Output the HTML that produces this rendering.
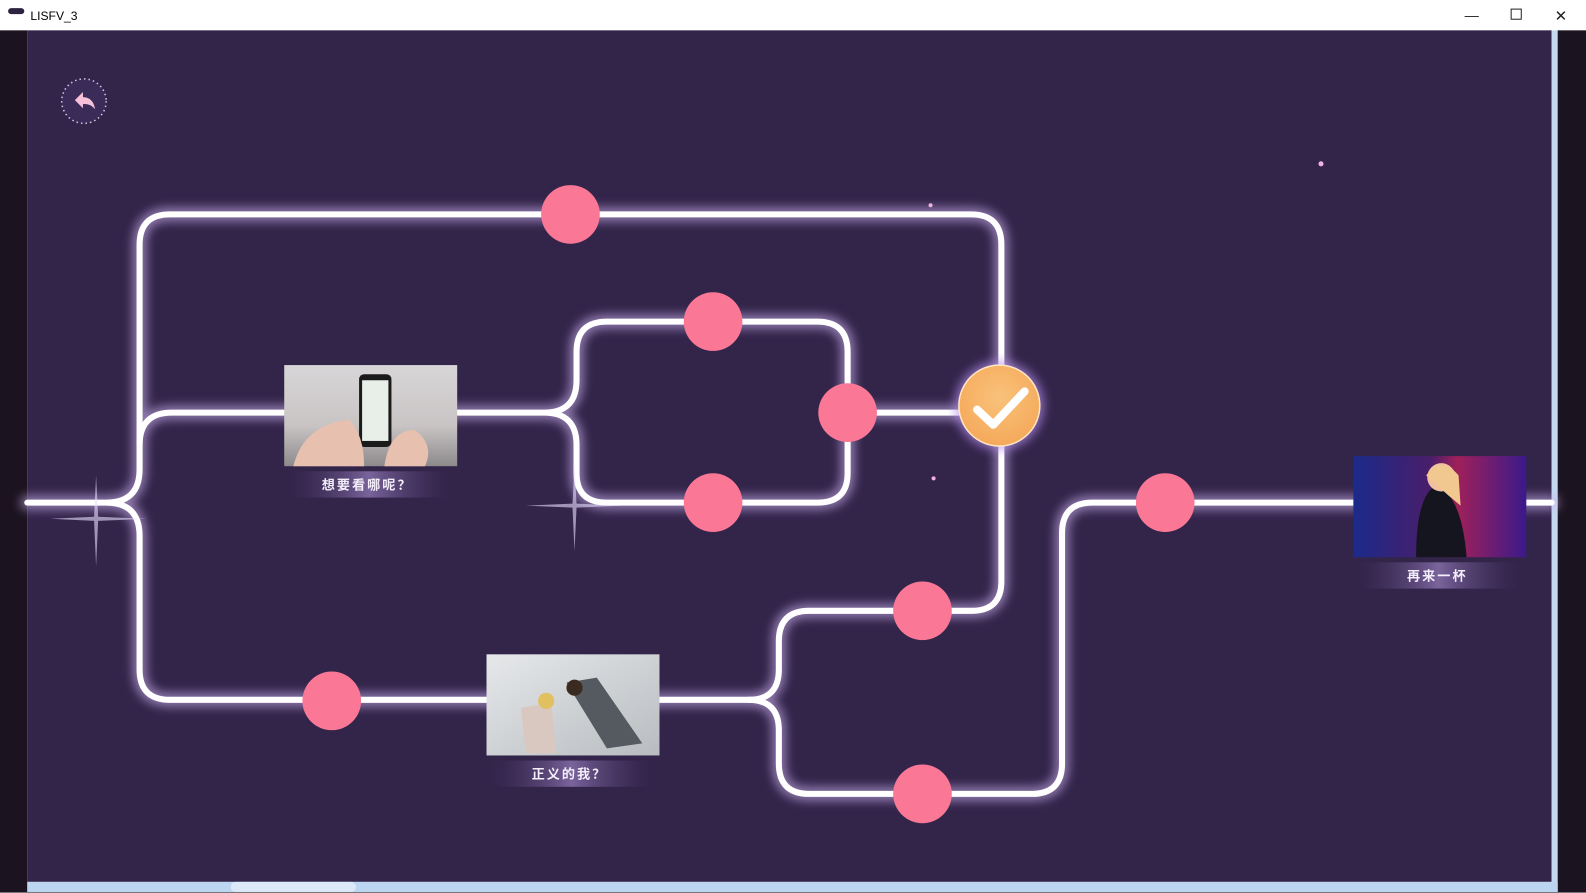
<!DOCTYPE html>
<html><head><meta charset="utf-8"><style>
html,body{margin:0;padding:0;width:1586px;height:893px;overflow:hidden;background:#fff}
svg{display:block}
</style></head><body>
<svg width="1586" height="893" viewBox="0 0 1568 883" preserveAspectRatio="none" xmlns="http://www.w3.org/2000/svg" font-family="Liberation Sans, Noto Sans CJK SC, sans-serif">
<defs>
<filter id="glow" x="-20%" y="-20%" width="140%" height="140%"><feGaussianBlur stdDeviation="5"/></filter>
<radialGradient id="chk" cx="50%" cy="40%" r="60%"><stop offset="0" stop-color="#f9c27a"/><stop offset="1" stop-color="#f5a95a"/></radialGradient>
<linearGradient id="lab" x1="0" x2="1"><stop offset="0" stop-color="#4a3868" stop-opacity="0"/><stop offset="0.5" stop-color="#7a649c"/><stop offset="1" stop-color="#4a3868" stop-opacity="0"/></linearGradient>
<linearGradient id="img1" x1="0" y1="0" x2="0" y2="1"><stop offset="0" stop-color="#d8d6d8"/><stop offset="0.6" stop-color="#c9c4c4"/><stop offset="1" stop-color="#8d8a8c"/></linearGradient>
<linearGradient id="img2" x1="0" y1="0" x2="1" y2="1"><stop offset="0" stop-color="#e6e8ea"/><stop offset="1" stop-color="#b8bcc0"/></linearGradient>
<linearGradient id="img3" x1="0" y1="0" x2="1" y2="0"><stop offset="0" stop-color="#1b2a8a"/><stop offset="0.45" stop-color="#4a1e6a"/><stop offset="0.6" stop-color="#a0205a"/><stop offset="1" stop-color="#3a1a8a"/></linearGradient>
</defs>
<rect x="0" y="0" width="1568" height="30" fill="#fff"/>
<rect x="8" y="8" width="16" height="6" rx="3" fill="#2d2240"/>
<text x="30" y="20" font-size="12" fill="#000">LISFV_3</text>
<text x="1448" y="20" font-size="14" fill="#222">—</text>
<rect x="1494" y="9" width="10" height="10" fill="none" stroke="#222" stroke-width="1"/>
<text x="1537" y="21" font-size="15" fill="#222">✕</text>
<rect x="0" y="30" width="27" height="853" fill="#1c1320"/>
<rect x="27" y="30" width="1507" height="842" fill="#33244a"/>
<rect x="1534" y="30" width="6" height="853" fill="#c4d8f0"/>
<rect x="1540" y="30" width="28" height="853" fill="#1c1320"/>
<rect x="27" y="872" width="1513" height="11" fill="#bcd6f2"/>
<rect x="228" y="872" width="124" height="10" rx="5" fill="#dce9f8"/>
<rect x="0" y="882" width="1568" height="1" fill="#777"/>
<circle cx="83" cy="100" r="22" fill="#3a2b58" stroke="#d8c0e0" stroke-width="1.5" stroke-dasharray="1.5 3"/>
<path d="M74 99 L82 91 L82 96 Q92 96 94 108 Q89 102 82 103 L82 107 Z" fill="#f5c0d8"/>
<g id="paths" fill="none" stroke-linecap="round" stroke-linejoin="round">
<path d="M27 497 H105 Q138 497 138 464 V242 Q138 212 168 212 H960 Q990 212 990 242 V575 Q990 604 960 604 H800 Q770 604 770 634 V662 Q770 692 740 692 H168 Q138 692 138 662 V530 Q138 497 105 497"/>
<path d="M138 440 Q138 408 170 408 H538 Q570 408 570 376 V348 Q570 318 600 318 H808 Q838 318 838 348 V468 Q838 497 808 497 H600 Q570 497 570 468 V440 Q570 408 538 408"/>
<path d="M838 408 H950"/>
<path d="M740 692 Q770 692 770 722 V755 Q770 785 800 785 H1020 Q1050 785 1050 755 V527 Q1050 497 1080 497 H1534"/>
</g>
<use href="#paths" stroke="#cdb4f0" stroke-width="14" filter="url(#glow)" opacity="0.6"/>
<use href="#paths" stroke="#ffffff" stroke-width="6"/>
<g fill="#e8e0ff">
<path d="M95 470 L97 511 L145 513 L97 515 L95 560 L93 515 L50 513 L93 511 Z" opacity="0.6"/>
<path d="M568 460 L570 498 L615 500 L570 502 L568 545 L566 502 L520 500 L566 498 Z" opacity="0.6"/>
<circle cx="920" cy="203" r="2" fill="#f0b0e0"/><circle cx="1306" cy="162" r="2.5" fill="#f0b0e0"/><circle cx="923" cy="473" r="2" fill="#f0b0e0"/>
</g>
<g fill="#fa7896">
<circle cx="564" cy="212" r="29"/><circle cx="705" cy="318" r="29"/><circle cx="838" cy="408" r="29"/>
<circle cx="705" cy="497" r="29"/><circle cx="912" cy="604" r="29"/><circle cx="912" cy="785" r="29"/>
<circle cx="1152" cy="497" r="29"/><circle cx="328" cy="693" r="29"/>
</g>
<circle cx="988" cy="401" r="44" fill="#b690ee" filter="url(#glow)" opacity="0.7"/>
<circle cx="988" cy="401" r="40" fill="url(#chk)" stroke="#ffe6c4" stroke-width="1.5"/>
<path d="M966 405 L982 420 L1013 387" fill="none" stroke="#fff" stroke-width="8" stroke-linecap="round" stroke-linejoin="round"/>
<rect x="281" y="361" width="171" height="100" fill="url(#img1)"/>
<rect x="355" y="370" width="32" height="72" rx="5" fill="#1a1a1a"/><rect x="358" y="376" width="26" height="60" fill="#e8efe8"/>
<path d="M290 461 Q300 420 345 415 Q360 430 360 461 Z" fill="#e8c0b0"/><path d="M380 461 Q385 425 410 425 Q430 440 420 461 Z" fill="#e8c0b0"/>
<rect x="285" y="466" width="160" height="26" fill="url(#lab)"/>
<text x="363" y="484" text-anchor="middle" font-size="13" font-weight="bold" fill="#f4eefa" letter-spacing="2">想要看哪呢？</text>
<rect x="481" y="647" width="171" height="100" fill="url(#img2)"/>
<path d="M560 675 L590 670 L635 735 L600 740 Z" fill="#555a60"/><circle cx="568" cy="680" r="8" fill="#3a2a20"/>
<path d="M515 700 L545 695 L550 745 L520 745 Z" fill="#d8c8c0"/><circle cx="540" cy="693" r="8" fill="#e0c060"/>
<rect x="485" y="752" width="160" height="26" fill="url(#lab)"/>
<text x="563" y="770" text-anchor="middle" font-size="13" font-weight="bold" fill="#f4eefa" letter-spacing="2">正义的我？</text>
<rect x="1338" y="451" width="171" height="100" fill="url(#img3)"/>
<path d="M1400 551 Q1400 490 1420 480 Q1445 490 1450 551 Z" fill="#151520"/>
<circle cx="1425" cy="472" r="14" fill="#f0c0a0"/><path d="M1410 470 Q1425 450 1442 470 L1444 500 L1432 490 Z" fill="#f0c890"/>
<rect x="1342" y="556" width="160" height="26" fill="url(#lab)"/>
<text x="1421" y="574" text-anchor="middle" font-size="13" font-weight="bold" fill="#f4eefa" letter-spacing="2">再来一杯</text>
</svg>
</body></html>
